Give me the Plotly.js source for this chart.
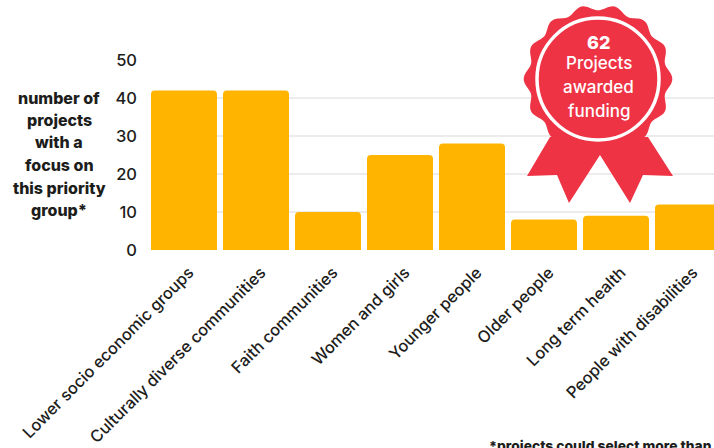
<!DOCTYPE html>
<html>
<head>
<meta charset="utf-8">
<script src="https://cdn.plot.ly/plotly-3.0.1.min.js"></script>
<style>html,body{margin:0;padding:0;background:#fff;overflow:hidden}</style>
</head>
<body>
<div id="chart" style="width:714px;height:448px"></div>
<script>
// Priority groups and the number of funded projects focused on each
const categories = ["Lower socio economic groups", "Culturally diverse communities", "Faith communities", "Women and girls", "Younger people", "Older people", "Long term health", "People with disabilities"];
const projectCounts = [42, 42, 10, 25, 28, 8, 9, 12];
const yTicks = [0, 10, 20, 30, 40, 50];
const axisTitleLines = ["number of", "projects", "with a", "focus on", "this priority", "group*"];
const badgeLines = ["Projects", "awarded", "funding"];
const badgeTotal = "62";
const footnote = "*projects could select more than";

const W = 714, H = 448;
const FONT = "Inter, 'Open Sans', sans-serif";
const INK = "#1d1d1b", RED = "#EE3345", AMBER = "#FFB500";

// Page pixels to paper fractions, for the badge and side labels
const px = x => (x - 151) / (W - 151);
const py = y => 1 - (y - 60) / 190;
const pathFrom = pts => "M" + pts.map(p => px(p[0]).toFixed(5) + "," + py(p[1]).toFixed(5)).join("L") + "Z";

// Scalloped rosette outline with fourteen lobes
const cx = 598, cy = 79;
const rosette = [];
for (let i = 0; i < 280; i++) {
  const t = i / 280 * 2 * Math.PI;
  const r = 71.5 + 2.8 * Math.cos(14 * t);
  rosette.push([cx + r * Math.cos(t), cy + r * Math.sin(t)]);
}
const ribbon = [[550,137],[527,176],[557,175],[569,203],[600,155],[630,203],[643,175],[673,176],[648,137]];

const shapes = [
  {type:"path", xref:"paper", yref:"paper", path:pathFrom(ribbon), fillcolor:RED, line:{width:0}, layer:"above"},
  {type:"path", xref:"paper", yref:"paper", path:pathFrom(rosette), fillcolor:RED, line:{width:0}, layer:"above"},
  {type:"circle", xref:"paper", yref:"paper", x0:px(cx-61), x1:px(cx+61), y0:py(cy+61), y1:py(cy-61),
   fillcolor:"rgba(0,0,0,0)", line:{color:"#fff", width:3.5}, layer:"above"}
];

const annotations = [];
const note = (text, x, y, size, color, weight, xanchor) => annotations.push({
  text, xref:"paper", yref:"paper", x:px(x), y:py(y), xanchor:xanchor || "center", yanchor:"middle",
  showarrow:false, font:{family:FONT, size, color, weight: weight || 400}
});
const titleY = [98, 120, 142, 165, 188, 210];
axisTitleLines.forEach((line, i) => note(line, 59, titleY[i], 16, INK, 800));
note(badgeTotal, 598.5, 43, 18, "#fff", 800);
const badgeY = [63, 87, 111];
badgeLines.forEach((line, i) => note(line, 598.5, badgeY[i], 17, "#fff", 500));
note(footnote, 487, 446, 13.8, INK, 800, "left");

Plotly.newPlot("chart", [{
  type:"bar", x:categories, y:projectCounts,
  marker:{color:AMBER, line:{width:0}}, hoverinfo:"x+y"
}], {
  width:W, height:H,
  margin:{l:151, r:0, t:60, b:198, pad:0},
  paper_bgcolor:"#fff", plot_bgcolor:"#fff",
  bargap:0.083, barcornerradius:4, showlegend:false,
  font:{family:FONT, color:INK},
  xaxis:{type:"category", range:[-0.458, 7.361], showgrid:false, zeroline:false, showline:false,
         ticks:"", tickangle:-45, ticklabelstandoff:9, ticklabelshift:5,
         tickfont:{family:FONT, size:16.3, color:INK, weight:500}, automargin:false},
  yaxis:{range:[0, 50], tickmode:"array", tickvals:yTicks, showgrid:true, gridcolor:"#ececec", gridwidth:1.5,
         zeroline:false, showline:false, ticks:"", ticklen:0, ticklabelstandoff:13,
         tickfont:{family:FONT, size:16.5, color:INK, weight:500}, automargin:false},
  shapes, annotations
}, {displayModeBar:false, responsive:false});
</script>
</body>
</html>
